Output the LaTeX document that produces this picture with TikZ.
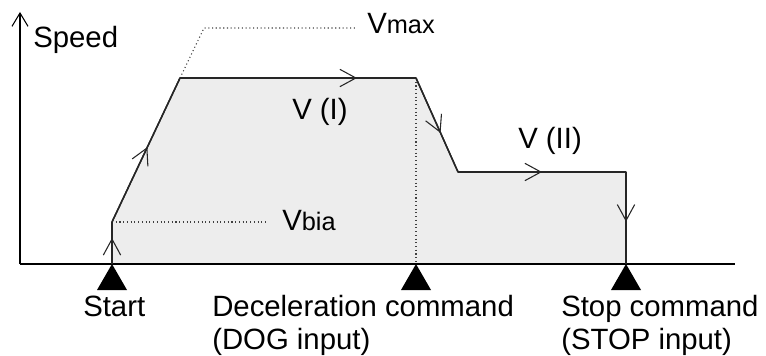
\documentclass[tikz,border=0pt]{standalone}
\usepackage{fontspec}
\setmainfont{Liberation Sans}
\usetikzlibrary{arrows.meta,decorations.markings}

\tikzset{
    profile/.style={line width=1.1pt, black!85, line join=miter},
    axisline/.style={line width=1pt, black},
    guide/.style={dotted, line width=0.8pt, black!75},
    midarrow/.style={postaction={decorate}, decoration={markings,
        mark=at position #1 with {\arrow{Straight Barb[length=12pt,width=13pt,line width=0.8pt]}}}},
    lbl/.style={font=\fontsize{22}{25}\selectfont, inner sep=0pt},
}
\newcommand{\subtxt}[1]{{\fontsize{19}{19}\selectfont #1}}

\begin{document}
\begin{tikzpicture}[x=0.75pt, y=-0.75pt]
    \useasboundingbox (0,0) rectangle (766,356);

    % Corners of the speed profile (pixel grid, y downwards)
    \coordinate (o)     at (20,264);
    \coordinate (start) at (112,264);
    \coordinate (bia)   at (112,222);
    \coordinate (up)    at (180,78);
    \coordinate (dec)   at (416,78);
    \coordinate (low)   at (458,172);
    \coordinate (end)   at (626,172);
    \coordinate (dog)   at (416,264);
    \coordinate (stop)  at (626,264);

    % Area under the profile
    \fill[black!7] (start) -- (bia) -- (up) -- (dec) -- (low) -- (end) -- (stop) -- cycle;

    % Labels
    \node[lbl, anchor=base west] (speed) at (33,48) {Speed};
    \node[lbl, anchor=base west] (vmax) at (367,34) {V\subtxt{max}};
    \node[lbl, anchor=base west] (vbia) at (282,230) {V\subtxt{bia}};
    \node[lbl, anchor=base west] (vone) at (292,120) {V (I)};
    \node[lbl, anchor=base west] (vtwo) at (518,148) {V (II)};
    \node[lbl, anchor=base west] (startlbl) at (83,316) {Start};
    \node[lbl, anchor=north west, align=left] (doglbl) at (212,295)
        {Deceleration command\\(DOG input)};
    \node[lbl, anchor=north west, align=left] (stoplbl) at (561,295)
        {Stop command\\(STOP input)};

    % Dotted guides
    \coordinate (knee) at (204,28);
    \draw[guide] (up) -- (knee) -- ([xshift=-9pt]knee -| vmax.west);
    \draw[guide] (bia) -- ([xshift=-11pt]bia -| vbia.west);
    \draw[guide] (dec) -- (dog);

    % Axes
    \coordinate (ytop) at (20,12);
    \coordinate (xend) at (735,264);
    \draw[axisline, -{Straight Barb[length=10pt,width=12pt,line width=0.8pt]}] (o) -- (ytop);
    \draw[axisline] (o) -- (xend);

    % Profile with direction marks
    \draw[profile] (start) -- (bia) -- (up) -- (dec) -- (low) -- (end) -- (stop);
    \foreach \a/\b/\p in {start/bia/0.62, bia/up/0.52, up/dec/0.75,
                          dec/low/0.585, low/end/0.5, end/stop/0.54}{
        \draw[profile, midarrow=\p] (\a) -- (\b);
    }

    % Trigger marks on the time axis
    \foreach \t in {start, dog, stop}{
        \fill (\t) -- ++(-15,26) -- ++(30,0) -- cycle;
    }
\end{tikzpicture}
\end{document}
